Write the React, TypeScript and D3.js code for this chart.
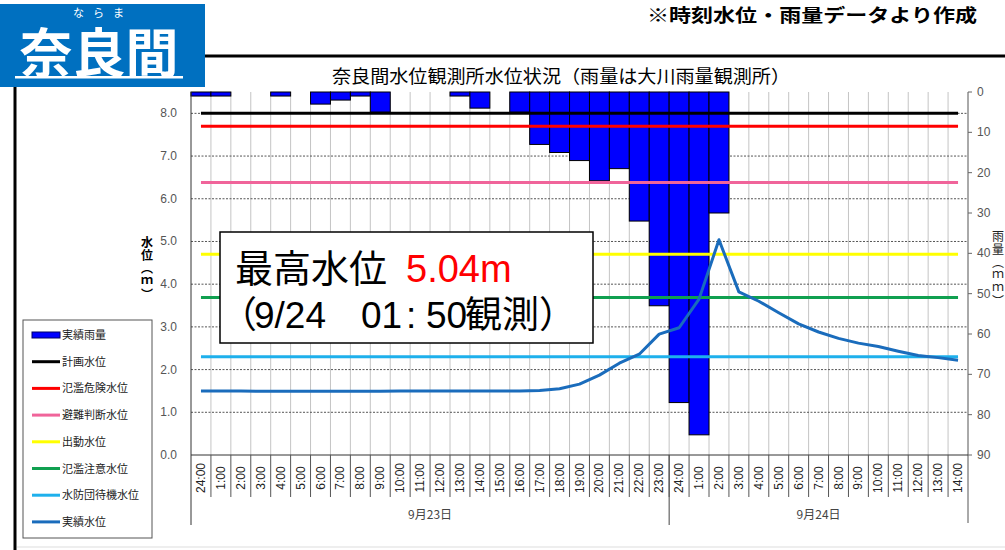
import React from "react";
import * as d3 from "d3";

const hourLabels = [
  "24:00","1:00","2:00","3:00","4:00","5:00","6:00","7:00","8:00","9:00","10:00","11:00",
  "12:00","13:00","14:00","15:00","16:00","17:00","18:00","19:00","20:00","21:00","22:00","23:00",
  "24:00","1:00","2:00","3:00","4:00","5:00","6:00","7:00","8:00","9:00","10:00","11:00",
  "12:00","13:00","14:00",
];
const rainfall = [
  1,1,0,0,1,0,3,2,1,5,0,0,
  0,1,4,0,5,13,15,17,22,19,32,53,
  77,85,30,0,0,0,0,0,0,0,0,0,
  0,0,0,
];
const waterLevel = [
  1.50,1.50,1.50,1.49,1.49,1.49,1.49,1.49,1.49,1.49,1.50,1.50,
  1.50,1.50,1.50,1.50,1.50,1.51,1.55,1.66,1.87,2.15,2.36,2.83,
  2.98,3.65,5.04,3.82,3.60,3.33,3.07,2.88,2.73,2.62,2.54,2.43,
  2.33,2.28,2.22,
];
const thresholdNames = ["計画水位","氾濫危険水位","避難判断水位","出動水位","氾濫注意水位","水防団待機水位"];
const thresholdValues = [8.0, 7.7, 6.38, 4.7, 3.69, 2.3];
const thresholdColors = ["#000000","#ff0000","#f0649a","#ffff00","#10a050","#1eb0ec"];
const leftTicks = [0,1,2,3,4,5,6,7,8];
const rightTicks = [0,10,20,30,40,50,60,70,80,90];
const dateLabels = ["9月23日","9月24日"];
const dateSpans = [[0,24],[24,39]];

const LEVEL_COLOR = "#1a6cbc";
const RAIN_COLOR = "#0000ff";

export default function App() {
  const L = 191, R = 968, T = 92, B = 455;
  const idx = hourLabels.map((_, i) => i);
  const x = d3.scaleBand<number>().domain(idx).range([L, R]).padding(0);
  const bw = x.bandwidth();
  const cx = (i: number) => (x(i) as number) + bw / 2;
  const edge = (i: number) => (i >= hourLabels.length ? R : (x(i) as number));
  const yL = d3.scaleLinear().domain([0, 8.5]).range([B, T]);
  const yR = d3.scaleLinear().domain([0, 90]).range([T, B]);
  const line = d3.line<number>().x((_, i) => cx(i)).y((d) => yL(d));

  const cjk = "'Noto Sans CJK JP', sans-serif";
  const lat = "'Liberation Sans', Arial, sans-serif";

  const legendItems = [
    { name: "実績雨量", color: RAIN_COLOR, rain: true },
    ...thresholdNames.map((n, i) => ({ name: n, color: thresholdColors[i], rain: false })),
    { name: "実績水位", color: LEVEL_COLOR, rain: false },
  ];

  return (
    <svg width={1005} height={550} style={{ position: "absolute", left: 0, top: 0, background: "#fff" }}>
      {/* header */}
      <rect x={0} y={4} width={205} height={83} fill="#0070c0" />
      <text x={103} y={17} fill="#fff" fontSize={11} fontFamily={cjk} textAnchor="middle" letterSpacing={9}>ならま</text>
      <text x={99} y={73} fill="#fff" fontSize={53} fontWeight="bold" fontFamily={cjk} textAnchor="middle">奈良間</text>
      <rect x={15} y={76} width={168} height={2.5} fill="#fff" />
      <text x={647} y={22} fontSize={18} fontWeight="bold" fontFamily={cjk} textLength={330} lengthAdjust="spacingAndGlyphs">※時刻水位・雨量データより作成</text>
      <line x1={205} x2={1005} y1={56} y2={56} stroke="#000" strokeWidth={3} />
      <line x1={15} x2={15} y1={87} y2={550} stroke="#000" strokeWidth={3} />
      <line x1={17} x2={1005} y1={547} y2={547} stroke="#ddd" strokeWidth={1} />

      {/* title */}
      <text x={332} y={83} fontSize={18} fontFamily={cjk} textLength={458} lengthAdjust="spacingAndGlyphs">奈良間水位観測所水位状況（雨量は大川雨量観測所）</text>

      {/* plot background + grid */}
      <rect x={L} y={T} width={R - L} height={B - T} fill="#fff" />
      {idx.slice(1).map((i) => (
        <line key={"vg" + i} x1={x(i)} x2={x(i)} y1={T} y2={B} stroke="#c4c4c4" strokeWidth={1} />
      ))}
      {leftTicks.slice(1).map((t) => (
        <line key={"hg" + t} x1={L} x2={R} y1={yL(t)} y2={yL(t)} stroke="#555" strokeWidth={1} strokeDasharray="2,1.5" />
      ))}

      {/* rain bars */}
      {rainfall.map((v, i) =>
        v > 0 ? (
          <rect key={"r" + i} x={x(i)} y={yR(0)} width={bw} height={yR(v) - yR(0)} fill={RAIN_COLOR} stroke="#000" strokeWidth={1} />
        ) : null
      )}

      {/* thresholds */}
      {thresholdValues.map((v, i) => (
        <line key={"th" + i} x1={cx(0)} x2={cx(hourLabels.length - 1)} y1={yL(v)} y2={yL(v)} stroke={thresholdColors[i]} strokeWidth={3} />
      ))}

      {/* water level */}
      <path d={line(waterLevel) || ""} fill="none" stroke={LEVEL_COLOR} strokeWidth={3} strokeLinejoin="round" />

      {/* axes frame */}
      <line x1={L} x2={L} y1={T} y2={525} stroke="#333" strokeWidth={1} />
      <line x1={R} x2={R} y1={T} y2={523} stroke="#555" strokeWidth={1} />
      <line x1={L} x2={R} y1={B} y2={B} stroke="#333" strokeWidth={1} />
      <line x1={x(24)} x2={x(24)} y1={B} y2={525} stroke="#444" strokeWidth={1} />
      {idx.slice(1).map((i) => (
        <line key={"sep" + i} x1={x(i)} x2={x(i)} y1={B} y2={497} stroke="#555" strokeWidth={1} />
      ))}

      {/* left ticks */}
      {leftTicks.map((t) => (
        <text key={"lt" + t} x={177} y={yL(t) + 4} fontSize={12} fill="#555" fontFamily={lat} textAnchor="end">{t.toFixed(1)}</text>
      ))}
      {/* right ticks */}
      {rightTicks.map((t) => (
        <g key={"rt" + t}>
          <line x1={R} x2={R + 4} y1={yR(t)} y2={yR(t)} stroke="#666" />
          <text x={977} y={yR(t) + 4} fontSize={12} fill="#555" fontFamily={lat}>{t}</text>
        </g>
      ))}

      {/* x labels */}
      {hourLabels.map((h, i) => (
        <text key={"xl" + i} transform={`translate(${cx(i) + 4},478) rotate(-90)`} fontSize={12} fill="#222" fontFamily={lat} textAnchor="middle">{h}</text>
      ))}
      {dateLabels.map((d, k) => (
        <text key={"dl" + k} x={(edge(dateSpans[k][0]) + edge(dateSpans[k][1])) / 2} y={519} fontSize={12} fill="#444" fontFamily={cjk} textAnchor="middle">{d}</text>
      ))}

      {/* axis titles (vertical writing) */}
      <text x={147} y={236} fontSize={12} fontWeight="bold" fontFamily={cjk} style={{ writingMode: "vertical-rl" }} letterSpacing={1}>水位（ｍ）</text>
      <text x={998} y={230} fontSize={12} fontFamily={cjk} fill="#222" style={{ writingMode: "vertical-rl" }} letterSpacing={1}>雨量（ｍｍ）</text>

      {/* legend */}
      <rect x={23} y={320} width={129} height={218} fill="#fff" stroke="#555" strokeWidth={1} />
      {legendItems.map((it, k) => {
        const yy = 335 + k * 26.7;
        return (
          <g key={"lg" + k}>
            {it.rain ? (
              <rect x={32} y={yy - 3} width={28} height={6} fill={it.color} stroke="#000066" strokeWidth={1} />
            ) : (
              <line x1={32} x2={60} y1={yy} y2={yy} stroke={it.color} strokeWidth={3} />
            )}
            <text x={62} y={yy + 4} fontSize={11} fill="#222" fontFamily={cjk}>{it.name}</text>
          </g>
        );
      })}

      {/* annotation */}
      <rect x={220} y={232} width={373} height={111} fill="#fff" stroke="#000" strokeWidth={1.5} />
      <text y={282} fontSize={38} fontFamily={cjk}>
        <tspan x={235}>最高水位</tspan>
        <tspan x={406} fill="#ff0000" fontFamily={lat}>5.04m</tspan>
      </text>
      <text y={328} fontSize={37} fontFamily={cjk}>
        <tspan x={220}>（</tspan>
        <tspan x={254} fontFamily={lat}>9/24</tspan>
        <tspan x={361} fontFamily={lat}>01</tspan>
        <tspan x={406} fontFamily={lat}>:</tspan>
        <tspan x={426} fontFamily={lat}>50</tspan>
        <tspan x={465}>観測）</tspan>
      </text>
    </svg>
  );
}
